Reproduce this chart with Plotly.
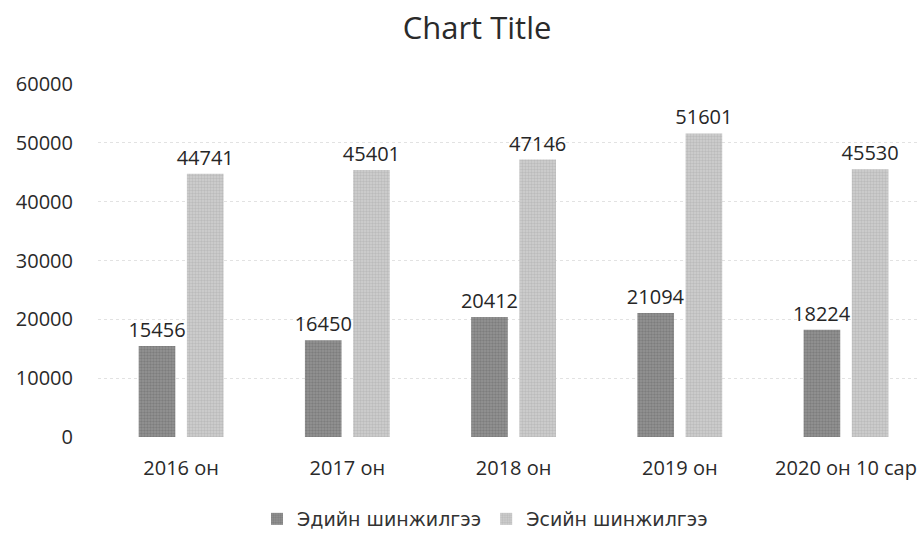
import plotly.graph_objects as go

categories = ["2016 он", "2017 он", "2018 он", "2019 он", "2020 он 10 сар"]
edi_values = [15456, 16450, 20412, 21094, 18224]
esi_values = [44741, 45401, 47146, 51601, 45530]
series_names = ["Эдийн шинжилгээ", "Эсийн шинжилгээ"]
y_ticks = [0, 10000, 20000, 30000, 40000, 50000, 60000]

FONT = "Open Sans, sans-serif"
W, H = 920, 535

fig = go.Figure()
fig.add_trace(go.Bar(
    x=categories, y=edi_values, name=series_names[0],
    marker=dict(color="#858585", line=dict(width=0),
                pattern=dict(shape=".", fgcolor="#666666", bgcolor="#959595", size=3, solidity=0.5)),
    text=[str(v) for v in edi_values], textposition="outside", constraintext="none",
    textfont=dict(size=20, color="#262626", family=FONT), cliponaxis=False,
))
fig.add_trace(go.Bar(
    x=categories, y=esi_values, name=series_names[1],
    marker=dict(color="#c2c2c2", line=dict(width=0),
                pattern=dict(shape=".", fgcolor="#a6a6a6", bgcolor="#d0d0d0", size=3, solidity=0.5)),
    text=[str(v) for v in esi_values], textposition="outside", constraintext="none",
    textfont=dict(size=20, color="#262626", family=FONT), cliponaxis=False,
))

fig.update_layout(
    width=W, height=H,
    margin=dict(l=98, r=0, t=84, b=98),
    paper_bgcolor="white", plot_bgcolor="white",
    barmode="group", bargap=0.42, bargroupgap=0.24,
    title=dict(text="Chart Title", x=477 / W, xref="container", y=1 - 28.5 / H, yref="container",
               xanchor="center", yanchor="middle",
               font=dict(size=31, color="#2a2a2a", family=FONT)),
    legend=dict(orientation="h", x=485 / W, xref="container", y=16 / H, yref="container",
                xanchor="center", yanchor="middle",
                font=dict(size=19, color="#333333", family="DejaVu Sans, sans-serif"),
                itemwidth=30),
    showlegend=True,
    font=dict(family=FONT),
)
fig.update_xaxes(range=[-0.5, 4.445], showline=False, ticks="", ticklabelstandoff=17,
                 tickfont=dict(size=20, color="#2a2a2a", family=FONT))
fig.update_yaxes(range=[0, 60000], tickvals=y_ticks, ticktext=[str(v) for v in y_ticks],
                 showgrid=True, gridcolor="#e2e2e2", griddash="dot", gridwidth=1,
                 zeroline=False, ticks="", ticklabelstandoff=24,
                 tickfont=dict(size=20, color="#2a2a2a", family=FONT))

fig.write_html("out.html", config={"displayModeBar": False},
               post_script="document.body.style.margin='0';document.body.style.overflow='hidden';")
